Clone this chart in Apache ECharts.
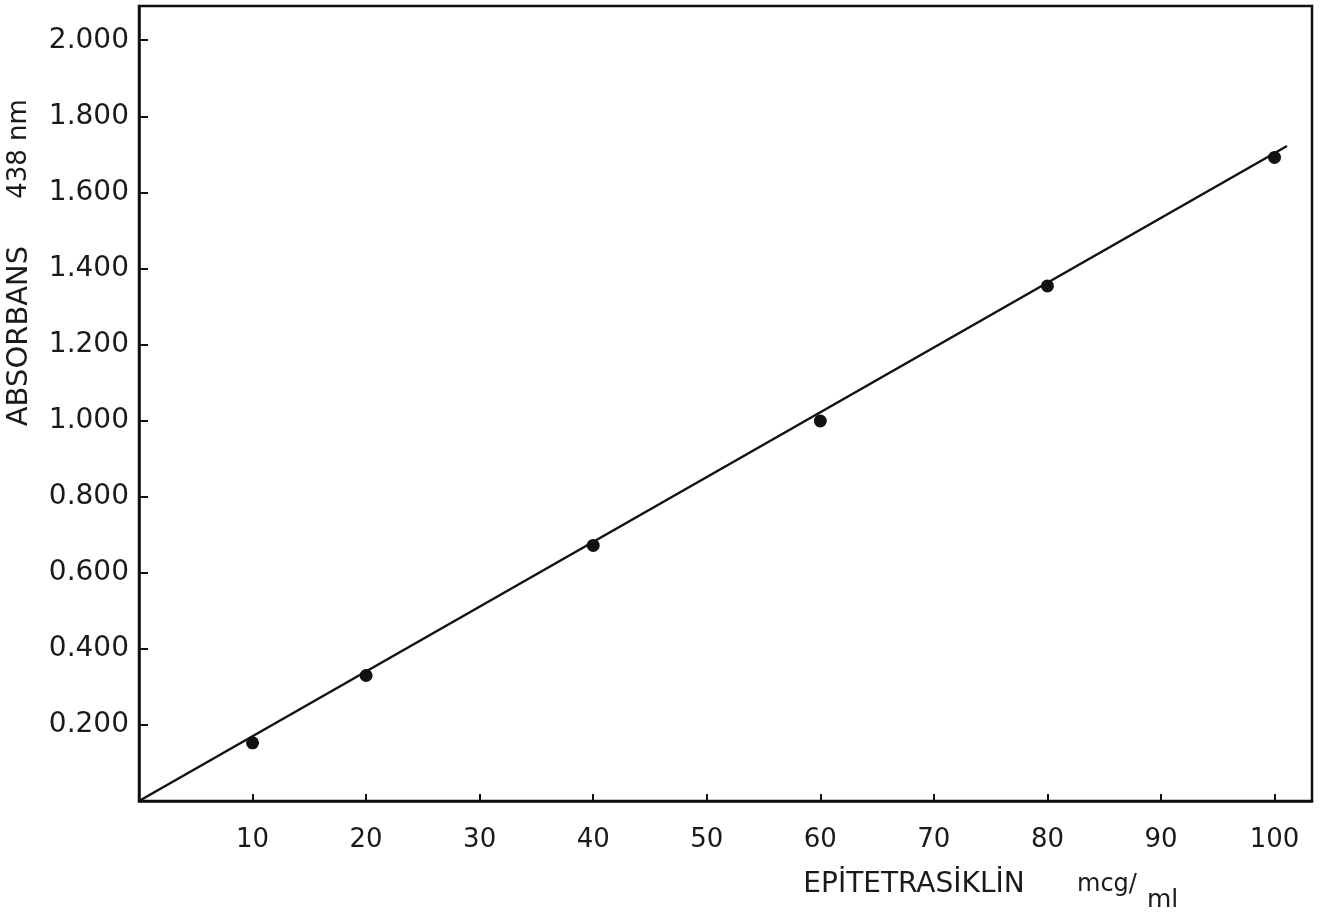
<!DOCTYPE html>
<html>
<head>
<meta charset="utf-8">
<script src="https://cdn.jsdelivr.net/npm/echarts@6/dist/echarts.min.js"></script>
<style>
html,body{margin:0;padding:0;background:#fff;}
#chart{width:1325px;height:918px;}
</style>
</head>
<body>
<div id="chart"></div>
<script>
// Data
const concentrations = [10, 20, 40, 60, 80, 100];          // mcg/ml
const absorbances    = [0.153, 0.330, 0.672, 0.999, 1.354, 1.692];
const fitX = [0, 101.1];
const fitY = [0, 1.722];
const xTicks = [10, 20, 30, 40, 50, 60, 70, 80, 90, 100];
const yTicks = [0.2, 0.4, 0.6, 0.8, 1.0, 1.2, 1.4, 1.6, 1.8, 2.0];
const yTitleMain = 'ABSORBANS';
const yTitleUnit = '438 nm';
const xTitleMain = 'EPİTETRASİKLİN';
const xUnitTop = 'mcg/';
const xUnitSub = 'ml';

const ink = '#111';
const font = 'DejaVu Sans';

const chart = echarts.init(document.getElementById('chart'));
chart.setOption({
  animation: false,
  backgroundColor: '#fff',
  grid: {
    left: 139, top: 6, right: 13, bottom: 117,
    show: true, borderColor: ink, borderWidth: 2.5, backgroundColor: 'transparent'
  },
  xAxis: {
    type: 'value', min: 0, max: 103.3, interval: 10,
    axisLine: { show: true, lineStyle: { color: ink, width: 2.5 } },
    axisTick: { show: true, inside: true, length: 7, customValues: xTicks, lineStyle: { color: ink, width: 2 } },
    axisLabel: { customValues: xTicks, fontSize: 26, fontFamily: font, color: '#1a1a1a', margin: 26 },
    splitLine: { show: false }
  },
  yAxis: {
    type: 'value', min: 0, max: 2.09, interval: 0.2,
    axisLine: { show: true, lineStyle: { color: ink, width: 2.5 } },
    axisTick: { show: true, inside: true, length: 9, customValues: yTicks, lineStyle: { color: ink, width: 2 } },
    axisLabel: { customValues: yTicks, fontSize: 28, fontFamily: font, color: '#1a1a1a', margin: 10,
      formatter: v => v.toFixed(3) },
    splitLine: { show: false }
  },
  graphic: [
    { type: 'text', x: 19, y: 336, rotation: Math.PI / 2,
      style: { text: yTitleMain, font: '29px "DejaVu Sans"', fill: '#1a1a1a', align: 'center', verticalAlign: 'middle' } },
    { type: 'text', x: 19, y: 149, rotation: Math.PI / 2,
      style: { text: yTitleUnit, font: '26px "DejaVu Sans"', fill: '#1a1a1a', align: 'center', verticalAlign: 'middle' } },
    { type: 'text', x: 914, y: 885,
      style: { text: xTitleMain, font: '28px "DejaVu Sans"', fill: '#1a1a1a', align: 'center', verticalAlign: 'middle' } },
    { type: 'text', x: 1077, y: 885,
      style: { text: xUnitTop, font: '24px "DejaVu Sans"', fill: '#1a1a1a', align: 'left', verticalAlign: 'middle' } },
    { type: 'text', x: 1147, y: 900,
      style: { text: xUnitSub, font: '25px "DejaVu Sans"', fill: '#1a1a1a', align: 'left', verticalAlign: 'middle' } }
  ],
  series: [
    {
      type: 'line',
      data: fitX.map((x, i) => [x, fitY[i]]),
      showSymbol: false,
      lineStyle: { color: ink, width: 2.5 },
      z: 2
    },
    {
      type: 'scatter',
      data: concentrations.map((x, i) => [x, absorbances[i]]),
      symbol: 'circle', symbolSize: 13,
      itemStyle: { color: ink, opacity: 1 },
      z: 3
    }
  ]
});
</script>
</body>
</html>
